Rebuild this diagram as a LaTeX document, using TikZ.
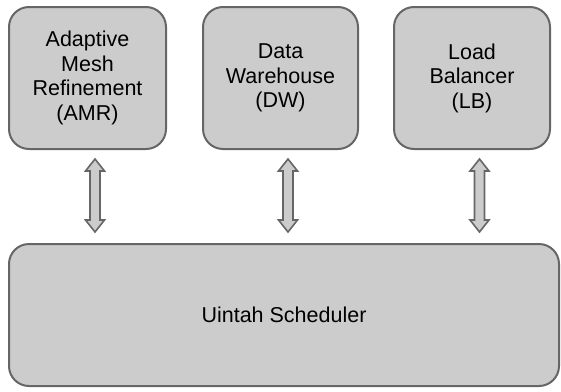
\documentclass[tikz,border=0pt]{standalone}
\usepackage{fontspec}
\setmainfont{Liberation Sans}
\usetikzlibrary{calc}
\definecolor{boxfill}{HTML}{CCCCCC}
\definecolor{boxline}{HTML}{666666}
\tikzset{
  box/.style={draw=boxline, fill=boxfill, line width=2pt, rounded corners=20pt,
    align=center, inner sep=0pt, font=\fontsize{21.5pt}{24.5pt}\selectfont},
  updown/.style={draw=boxline, fill=boxfill, line width=1.6pt, line join=miter},
}
\newcommand\myblockarrow[2]{%
  \draw[updown] (#1) -- ++(9.5,12) -- ++(-4.5,0) -- ++(0,49) -- ++(4.5,0) -- (#2)
    -- ++(-9.5,-12) -- ++(4.5,0) -- ++(0,-49) -- ++(-4.5,0) -- cycle;}
\begin{document}
\begin{tikzpicture}[x=1pt,y=-1pt]
\useasboundingbox (0,0) rectangle (561,391);
\node[box, minimum width=157pt, minimum height=142pt] (amr) at (87.5,78) {Adaptive\\Mesh\\Refinement\\(AMR)};
\node[box, minimum width=155pt, minimum height=142pt] (dw) at (280.5,78) {Data\\Warehouse\\(DW)};
\node[box, minimum width=156pt, minimum height=142pt] (lb) at (472,78) {Load\\Balancer\\(LB)};
\node[box, minimum width=550pt, minimum height=142pt] (sched) at (284,315) {Uintah Scheduler};
\foreach \n/\i in {amr/1, dw/2, lb/3}{
  \coordinate (t\i) at ($(\n.south)+(7.5,9)$);
  \coordinate (b\i) at ($(\n.south |- sched.north)+(7.5,-11)$);
}
\myblockarrow{t1}{b1}
\myblockarrow{t2}{b2}
\myblockarrow{t3}{b3}
\end{tikzpicture}
\end{document}
